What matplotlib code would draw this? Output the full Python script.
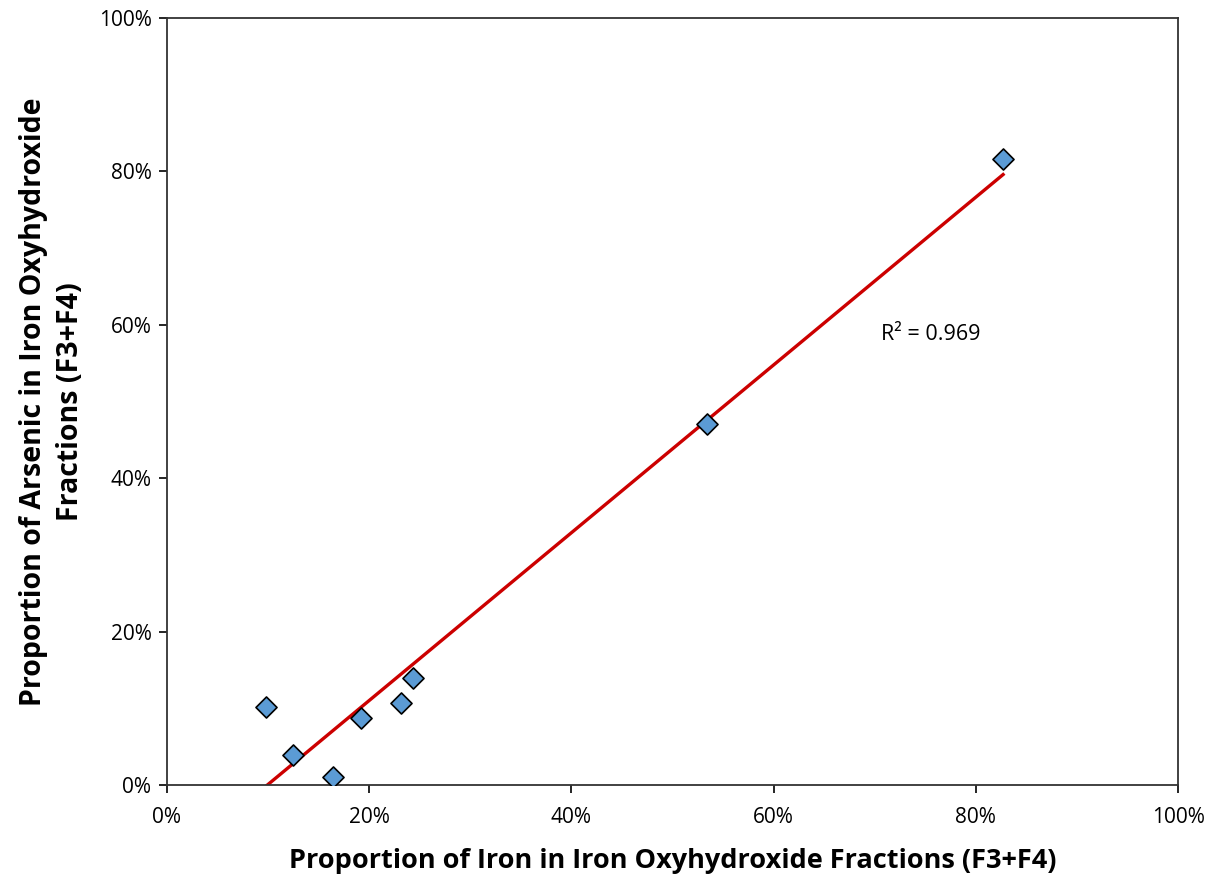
import numpy as np
import matplotlib.pyplot as plt
from matplotlib.ticker import PercentFormatter

# proportion of Fe (x) and As (y) in F3+F4, percent
iron_pct = [9.8, 12.5, 16.4, 19.2, 23.2, 24.4, 53.4, 82.7]
arsenic_pct = [10.2, 3.9, 1.0, 8.7, 10.7, 14.0, 47.1, 81.6]
r2_label = 'R² = 0.969'

plt.rcParams['font.family'] = ['Open Sans', 'DejaVu Sans']

fig = plt.figure(figsize=(12.17, 8.8), dpi=100)
ax = fig.add_axes([0.137, 0.108, 0.831, 0.8715])

x = np.array(iron_pct)
y = np.array(arsenic_pct)

# linear trendline over the data range
m, b = np.polyfit(x, y, 1)
xs = np.array([x.min(), x.max()])
ax.plot(xs, m * xs + b, color='#cc0000', linewidth=2.4, zorder=2)

ax.scatter(x, y, marker='D', s=115, color='#5b9bd5', edgecolors='black',
           linewidths=1.2, zorder=3)

ax.text(70.6, 58.7, r2_label, fontsize=15.5, va='center')

ax.set_xlim(0, 100)
ax.set_ylim(0, 100)
ax.set_xticks(np.arange(0, 101, 20))
ax.set_yticks(np.arange(0, 101, 20))
ax.xaxis.set_major_formatter(PercentFormatter(decimals=0))
ax.yaxis.set_major_formatter(PercentFormatter(decimals=0))
ax.tick_params(direction='out', length=6, width=1.2, labelsize=15)
ax.tick_params(axis='x', pad=10)
ax.tick_params(axis='y', pad=5)
for s in ax.spines.values():
    s.set_linewidth(1.3)
    s.set_color('#333333')

ax.set_xlabel('Proportion of Iron in Iron Oxyhydroxide Fractions (F3+F4)',
              fontsize=19.5, fontweight='bold', labelpad=14)
ax.set_ylabel('Proportion of Arsenic in Iron Oxyhydroxide\nFractions (F3+F4)',
              fontsize=20.5, fontweight='bold', labelpad=10, linespacing=1.35)

fig.savefig('out.png', dpi=100)
